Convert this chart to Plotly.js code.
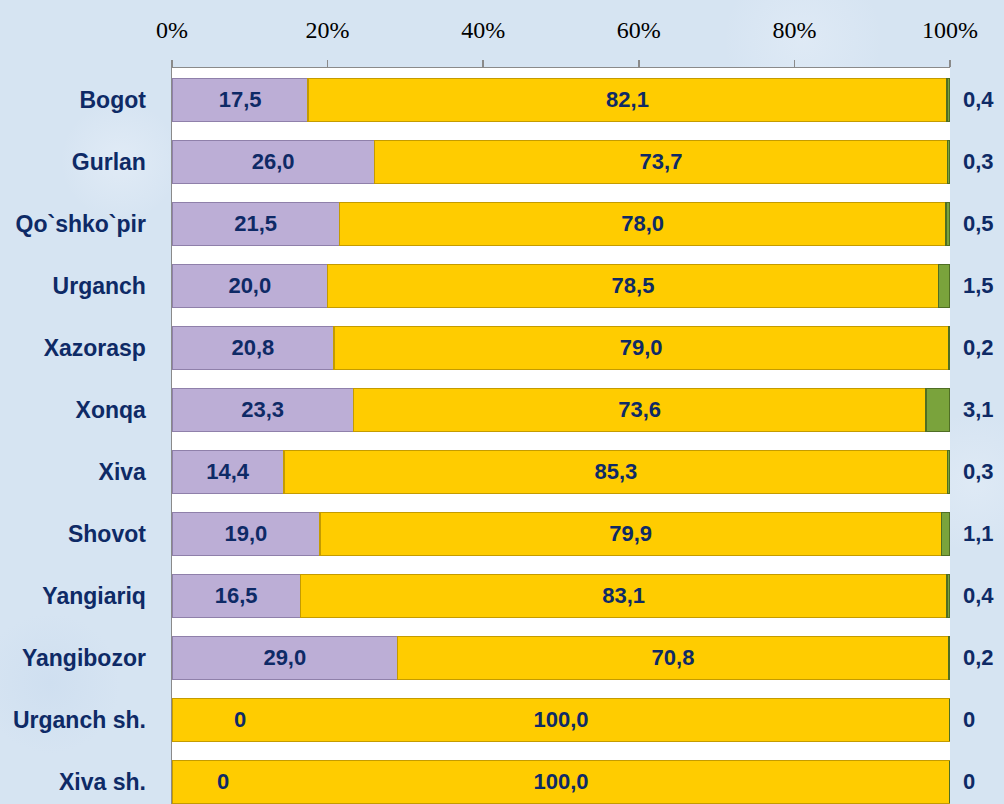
<!DOCTYPE html>
<html>
<head>
<meta charset="utf-8">
<script src="https://cdn.plot.ly/plotly-3.0.1.min.js"></script>
<style>
html,body{margin:0;padding:0;}
body{width:1004px;height:804px;overflow:hidden;
background:#d6e4f2;
background-image:
 radial-gradient(circle at 12% 20%, rgba(235,242,250,0.5) 0, rgba(235,242,250,0) 60px),
 radial-gradient(circle at 40% 70%, rgba(195,213,234,0.4) 0, rgba(195,213,234,0) 90px),
 radial-gradient(circle at 80% 5%, rgba(235,242,250,0.4) 0, rgba(235,242,250,0) 80px),
 radial-gradient(circle at 5% 85%, rgba(200,218,238,0.5) 0, rgba(200,218,238,0) 70px),
 radial-gradient(circle at 97% 60%, rgba(235,242,250,0.4) 0, rgba(235,242,250,0) 70px);}
#chart{width:1004px;height:804px;}
</style>
</head>
<body>
<div id="chart"></div>
<script>
const categories = ["Bogot","Gurlan","Qo`shko`pir","Urganch","Xazorasp","Xonqa","Xiva","Shovot","Yangiariq","Yangibozor","Urganch sh.","Xiva sh."];
const lavenderValues = [17.5, 26.0, 21.5, 20.0, 20.8, 23.3, 14.4, 19.0, 16.5, 29.0, 0, 0];
const goldValues = [82.1, 73.7, 78.0, 78.5, 79.0, 73.6, 85.3, 79.9, 83.1, 70.8, 100.0, 100.0];
const greenValues = [0.4, 0.3, 0.5, 1.5, 0.2, 3.1, 0.3, 1.1, 0.4, 0.2, 0, 0];
const tickValues = [0, 20, 40, 60, 80, 100];
const tickLabels = ["0%", "20%", "40%", "60%", "80%", "100%"];

const navy = '#0e2a66';
const fmt = v => v === 0 ? '0' : v.toFixed(1).replace('.', ',');
const labelFont = {family: 'Liberation Sans, Arial, sans-serif', size: 22, color: navy, weight: 'bold'};
const catFont = {family: 'Liberation Sans, Arial, sans-serif', size: 23, color: navy, weight: 'bold'};

const traces = [
  {type: 'bar', orientation: 'h', y: categories, x: lavenderValues,
   marker: {color: '#bcaed6', line: {color: '#8f80aa', width: 1.5}},
   text: lavenderValues.map(v => v === 0 ? '' : fmt(v)), textposition: 'inside', insidetextanchor: 'middle',
   textfont: labelFont, constraintext: 'none', hoverinfo: 'none'},
  {type: 'bar', orientation: 'h', y: categories, x: goldValues,
   marker: {color: '#ffcc00', line: {color: '#c49b00', width: 1.5}},
   text: goldValues.map(fmt), textposition: 'inside', insidetextanchor: 'middle',
   textfont: labelFont, constraintext: 'none', hoverinfo: 'none'},
  {type: 'bar', orientation: 'h', y: categories, x: greenValues,
   marker: {color: '#7aa33c', line: {color: '#4f6e24', width: 1.5}},
   textposition: 'none', hoverinfo: 'none'}
];

const annotations = [];
categories.forEach((c, i) => {
  annotations.push({x: 100, y: c, xref: 'x', yref: 'y', text: fmt(greenValues[i]),
    showarrow: false, xanchor: 'left', xshift: 11, font: labelFont});
  if (lavenderValues[i] === 0) {
    annotations.push({x: i === 10 ? 8.8 : 6.6, y: c, xref: 'x', yref: 'y', text: fmt(lavenderValues[i]),
      showarrow: false, xanchor: 'center', font: labelFont});
  }
});

const layout = {
  width: 1004, height: 804,
  margin: {l: 172, r: 54, t: 68, b: 0, pad: 0},
  paper_bgcolor: 'rgba(0,0,0,0)',
  plot_bgcolor: '#ffffff',
  barmode: 'stack',
  bargap: 0.31,
  showlegend: false,
  xaxis: {range: [0, 100], side: 'top', tickvals: tickValues, ticktext: tickLabels,
    showgrid: false, zeroline: false, ticks: 'outside', ticklen: 7, tickwidth: 1.5, tickcolor: '#8a8a8a',
    showline: true, linecolor: '#8a8a8a', linewidth: 1.5, ticklabelstandoff: 12,
    tickfont: {family: 'Liberation Serif, Times New Roman, serif', size: 24, color: '#000000'}},
  yaxis: {type: 'category', categoryarray: categories, range: [11.355, -0.516], autorange: false,
    showgrid: false, zeroline: false, ticks: '', showline: true, linecolor: '#8a8a8a', linewidth: 1.5,
    ticklabelstandoff: 20, tickfont: catFont},
  annotations: annotations
};

Plotly.newPlot('chart', traces, layout, {displayModeBar: false, staticPlot: true});
</script>
</body>
</html>
